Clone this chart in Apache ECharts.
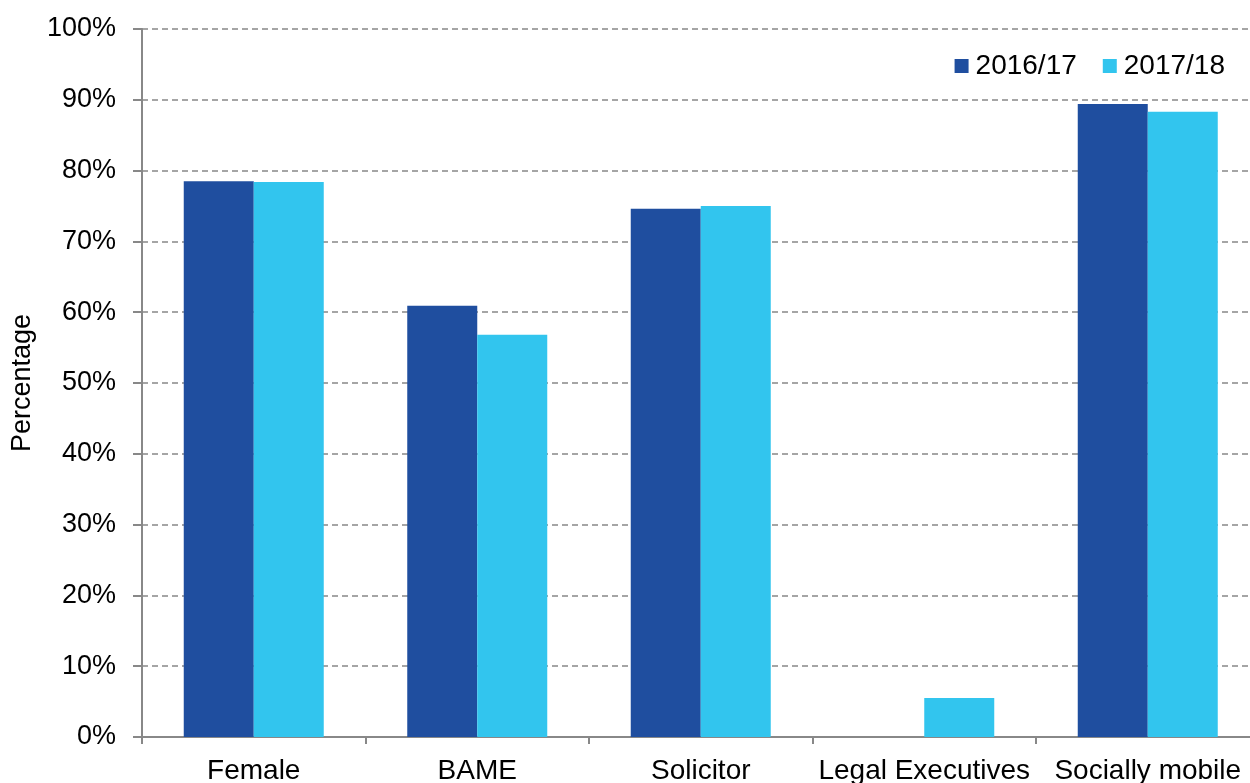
<!DOCTYPE html>
<html>
<head>
<meta charset="utf-8">
<script src="https://cdn.jsdelivr.net/npm/echarts@6/dist/echarts.min.js"></script>
<style>
html,body{margin:0;padding:0;background:#fff;}
#chart{width:1250px;height:783px;}
</style>
</head>
<body>
<div id="chart"></div>
<script>
var categories = ['Female', 'BAME', 'Solicitor', 'Legal Executives', 'Socially mobile'];
var seriesNames = ['2016/17', '2017/18'];
var values2016 = [78.5, 60.9, 74.6, null, 89.4];
var values2017 = [78.4, 56.8, 75.0, 5.5, 88.3];
var yTicks = [0, 10, 20, 30, 40, 50, 60, 70, 80, 90, 100];

var FONT = 'Liberation Sans, Arial, sans-serif';
var chart = echarts.init(document.getElementById('chart'));
chart.setOption({
  backgroundColor: '#ffffff',
  animation: false,
  textStyle: { fontFamily: FONT, color: '#000' },
  legend: {
    data: seriesNames,
    right: 20,
    top: 47,
    itemWidth: 14,
    itemHeight: 14,
    itemGap: 26,
    icon: 'rect',
    textStyle: { fontSize: 28, fontFamily: FONT, color: '#000', padding: [0, 0, 0, 2] }
  },
  grid: { left: 142, top: 29, bottom: 46, width: 1117.5, containLabel: false, outerBoundsMode: 'none' },
  xAxis: {
    type: 'category',
    data: categories,
    axisLine: { lineStyle: { color: '#888', width: 2 } },
    axisTick: { show: true, length: 7, lineStyle: { color: '#888', width: 2 } },
    axisLabel: { fontSize: 28, color: '#000', fontFamily: FONT, margin: 20, interval: 0 }
  },
  yAxis: {
    type: 'value',
    min: yTicks[0],
    max: yTicks[yTicks.length - 1],
    interval: 10,
    name: 'Percentage',
    nameLocation: 'middle',
    nameGap: 105,
    nameRotate: 90,
    nameTextStyle: { fontSize: 27, color: '#000', fontFamily: FONT },
    axisLine: { show: true, lineStyle: { color: '#888', width: 2 } },
    axisTick: { show: true, length: 9, lineStyle: { color: '#888', width: 2 } },
    axisLabel: { fontSize: 27, color: '#000', fontFamily: FONT, margin: 26, formatter: '{value}%' },
    splitLine: { show: true, lineStyle: { color: '#888', width: 1.5, type: [6, 4] } }
  },
  series: [
    {
      name: seriesNames[0],
      type: 'bar',
      data: values2016,
      barWidth: 70,
      barGap: '0%',
      itemStyle: { color: '#1F4E9F' }
    },
    {
      name: seriesNames[1],
      type: 'bar',
      data: values2017,
      barWidth: 70,
      barGap: '0%',
      itemStyle: { color: '#32C5EE' }
    }
  ]
});
</script>
</body>
</html>
